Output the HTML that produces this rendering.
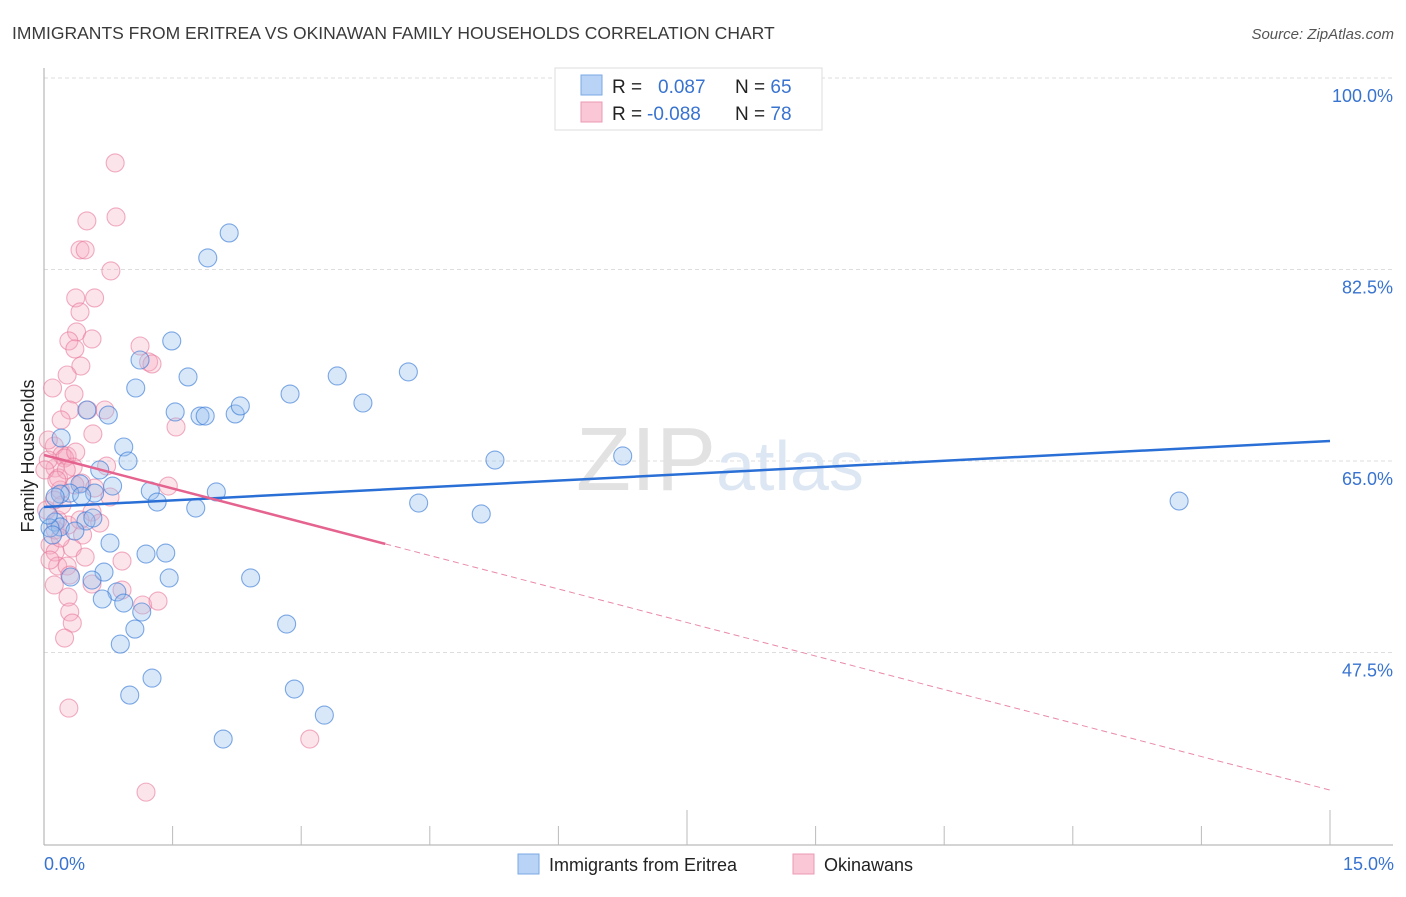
<!DOCTYPE html>
<html><head><meta charset="utf-8"><style>
body{margin:0;background:#fff;font-family:"Liberation Sans",sans-serif;}
svg text{font-family:"Liberation Sans",sans-serif;}
</style></head><body>
<svg width="1406" height="892" id="chart">
<text x="12" y="39" font-size="17.5" fill="#3a3a3a">IMMIGRANTS FROM ERITREA VS OKINAWAN FAMILY HOUSEHOLDS CORRELATION CHART</text>
<text x="1394" y="39" font-size="15" fill="#555" font-style="italic" text-anchor="end">Source: ZipAtlas.com</text>
<text x="34" y="456" font-size="18" fill="#222" text-anchor="middle" transform="rotate(-90 34 456)">Family Households</text>
<g id="grid"></g>
<text x="720" y="490" font-size="90" fill="#e4e4e4" text-anchor="middle" font-family="Liberation Serif"><tspan fill="#e2e2e2">ZIP</tspan><tspan fill="#dde7f4" font-family="Liberation Sans" font-size="70">atlas</tspan></text>
<g id="axes"></g>
<g id="points"></g>
<g id="lines"></g>
<g>
<rect x="555" y="68" width="267" height="62" fill="#fff" stroke="#ddd"/>
<rect x="581" y="75" width="21" height="20" fill="#b8d3f5" stroke="#7aa8e6"/>
<rect x="581" y="102" width="21" height="20" fill="#f9c7d6" stroke="#ec9ab4"/>
<text x="612" y="93" font-size="19" fill="#222">R = <tspan fill="#3873d0" x="658">0.087</tspan><tspan x="735" fill="#222">N = </tspan><tspan fill="#3873d0">65</tspan></text>
<text x="612" y="120" font-size="19" fill="#222">R = <tspan fill="#3873d0" x="647">-0.088</tspan><tspan x="735" fill="#222">N = </tspan><tspan fill="#3873d0">78</tspan></text>
</g>
<g>
<rect x="518" y="854" width="21" height="20" fill="#b8d3f5" stroke="#7aa8e6"/>
<text x="549" y="871" font-size="18" fill="#222">Immigrants from Eritrea</text>
<rect x="793" y="854" width="21" height="20" fill="#f9c7d6" stroke="#ec9ab4"/>
<text x="824" y="871" font-size="18" fill="#222">Okinawans</text>
</g>
</svg>
<script>
const yTicks=[100,82.5,65,47.5];
const yTickLabels=["100.0%","82.5%","65.0%","47.5%"];
const xTickLabels=["0.0%","15.0%"];
const blueX=[2.16,1.91,1.49,1.12,1.07,1.68,3.42,4.25,2.87,3.72,1.53,1.82,1.88,2.23,2.29,0.75,0.50,0.20,0.93,0.98,0.65,5.26,6.75,0.42,0.80,2.01,1.24,1.32,1.77,4.37,5.10,13.24,0.30,0.59,0.19,0.13,0.44,0.13,0.19,0.49,0.57,0.36,0.77,1.19,1.42,0.70,0.31,0.56,1.46,2.41,0.85,0.68,0.93,1.14,2.83,1.06,0.89,1.26,1.00,2.92,3.27,2.09,0.07,0.05,0.10];
const blueY=[85.84,83.56,75.97,74.23,71.67,72.68,72.77,73.14,71.12,70.30,69.48,69.11,69.11,69.30,70.03,69.20,69.66,67.10,66.28,65.0,64.18,65.09,65.46,62.90,62.71,62.17,62.26,61.25,60.70,61.16,60.16,61.34,62.07,62.07,61.98,61.71,61.80,59.42,58.97,59.52,59.79,58.60,57.50,56.50,56.59,54.85,54.40,54.12,54.31,54.31,53.03,52.39,52.02,51.20,50.10,49.64,48.27,45.16,43.61,44.16,41.78,39.59,58.88,60.06,58.24];
const pinkX=[.83,.84,.50,.42,.48,.78,.37,.59,.42,.38,.29,.56,.36,1.12,1.22,1.26,.43,.27,.10,.35,.30,.20,.51,.71,1.54,.57,.12,.21,.27,.24,.37,.13,.34,.73,.17,1.45,.77,.44,.56,.65,.28,.45,.07,.13,.33,.91,.48,.16,.27,.12,.56,.91,.28,.30,.33,1.15,1.33,.24,.29,3.10,1.19,.05,.19,.03,.13,.16,.01,.19,.07,.21,.26,.12,.05,.36,.15,.59,.42,.30];
const pinkY=[92.24,87.30,86.94,84.29,84.29,82.37,79.90,79.90,78.62,76.79,75.97,76.15,75.24,75.51,74.05,73.87,73.68,72.86,71.67,71.12,69.66,68.75,69.66,69.66,68.11,67.47,66.37,65.55,65.46,65.27,65.82,64.36,64.45,64.54,63.45,62.71,61.71,62.99,60.34,59.33,59.15,58.24,57.32,56.68,57.05,55.86,56.22,55.40,55.40,53.67,53.76,53.21,52.57,51.20,50.19,51.84,52.20,48.82,42.42,39.59,34.74,65.09,62.35,60.52,58.69,59.61,64.18,57.96,55.95,60.98,64.18,61.43,66.92,62.81,63.26,62.53,59.61,54.58];
const blueTrend=[60.80,66.83];
const pinkTrend=[65.55,34.93];
const pinkSolidEnd=3.98;
const NS="http://www.w3.org/2000/svg";
const X0=44,X1=1330,xMax=15;
function xs(v){return X0+(v/xMax)*(X1-X0);}
function ys(v){return 461-(v-65)*(191.5/17.5);}
function mk(tag,attrs,parent){const e=document.createElementNS(NS,tag);for(const k in attrs)e.setAttribute(k,attrs[k]);parent.appendChild(e);return e;}
const grid=document.getElementById('grid'),axes=document.getElementById('axes'),pts=document.getElementById('points'),lines=document.getElementById('lines');
yTicks.forEach((t,i)=>{
 const l=mk('line',{x1:44,x2:1393,y1:ys(t),y2:ys(t),stroke:'#ddd','stroke-dasharray':'4,3'},grid);
 
 
 const tx=mk('text',{x:1393,y:ys(t)+24,'font-size':18,fill:'#3873d0','text-anchor':'end'},axes);
 tx.textContent=yTickLabels[i];
 
 
});
const ax=mk('line',{x1:44,x2:44,y1:68,y2:845,stroke:'#aaa'},axes);


const bx=mk('line',{x1:44,x2:1393,y1:845,y2:845,stroke:'#aaa'},axes);


for(let i=1;i<=10;i++){const v=i*1.5;const tall=(i==5||i==10);
 const t=mk('line',{x1:xs(v),x2:xs(v),y1:tall?810:826,y2:845,stroke:'#bbb'},axes);
 
 }
[[0,'start'],[15,'end']].forEach((p,i)=>{const t=mk('text',{x:i?1394:44,y:870,'font-size':18,fill:'#3873d0','text-anchor':p[1]},axes);t.textContent=xTickLabels[i];
 
 });
pinkX.forEach((x,i)=>{const c=mk('circle',{cx:xs(x),cy:ys(pinkY[i]),r:9,fill:'rgba(246,170,192,0.32)',stroke:'rgba(232,120,155,0.6)','stroke-width':1.1},pts);
 
 });
blueX.forEach((x,i)=>{const c=mk('circle',{cx:xs(x),cy:ys(blueY[i]),r:9,fill:'rgba(150,190,238,0.36)',stroke:'rgba(60,125,215,0.65)','stroke-width':1.1},pts);
 
 });
const bl=mk('line',{x1:xs(0),y1:ys(blueTrend[0]),x2:xs(15),y2:ys(blueTrend[1]),stroke:'#2a6fd6','stroke-width':2.5},lines);


const pyAt=v=>pinkTrend[0]+(pinkTrend[1]-pinkTrend[0])*v/15;
const pl=mk('line',{x1:xs(0),y1:ys(pinkTrend[0]),x2:xs(pinkSolidEnd),y2:ys(pyAt(pinkSolidEnd)),stroke:'#e5638f','stroke-width':2.5},lines);


const pd=mk('line',{x1:xs(pinkSolidEnd),y1:ys(pyAt(pinkSolidEnd)),x2:xs(15),y2:ys(pinkTrend[1]),stroke:'#e98aa8','stroke-width':1,'stroke-dasharray':'6,4'},lines);


</script>
</body></html>
